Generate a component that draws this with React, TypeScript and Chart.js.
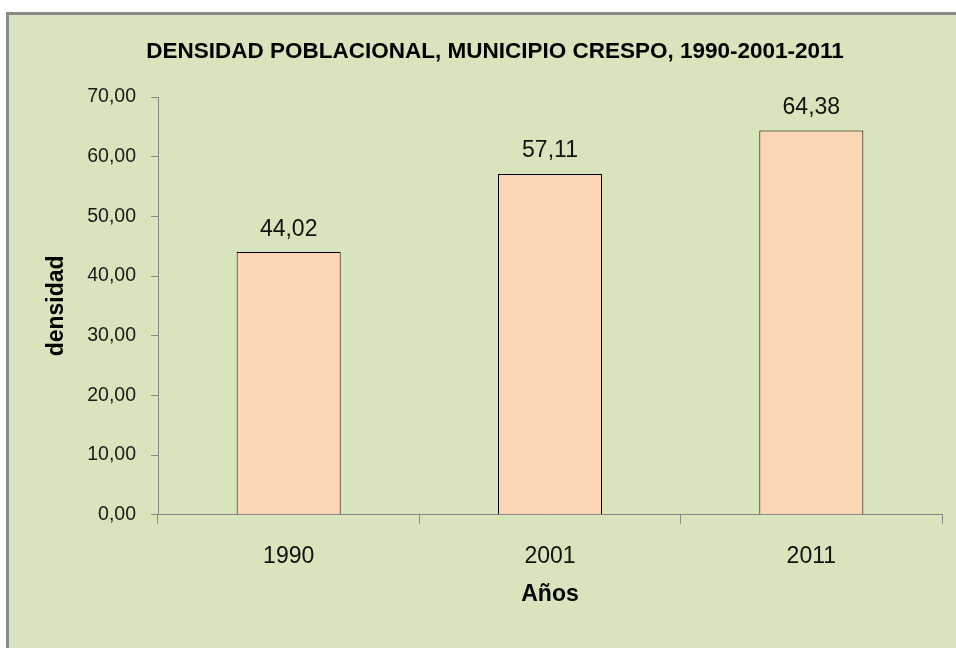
import React, { useEffect, useRef } from "react";
import { Chart, registerables } from "chart.js";

Chart.register(...registerables);

const categories: string[] = ["1990", "2001", "2011"];
const densidad: number[] = [44.02, 57.11, 64.38];
const yTickMin = 0;
const yTickMax = 70;
const yTickStep = 10;
const chartTitle = "DENSIDAD POBLACIONAL, MUNICIPIO CRESPO, 1990-2001-2011";
const xTitle = "Años";
const yTitle = "densidad";

const FONT = "'Liberation Sans Narrow', 'Arial Narrow', 'Liberation Sans', Arial, sans-serif";
const fmt = (v: number) => v.toFixed(2).replace(".", ",");

const valueLabels = {
  id: "valueLabels",
  afterDatasetsDraw(chart: any) {
    const ctx = chart.ctx;
    const meta = chart.getDatasetMeta(0);
    const ds = chart.data.datasets[0];
    ctx.save();
    ctx.font = `23px ${FONT}`;
    ctx.fillStyle = "#111";
    ctx.textAlign = "center";
    ctx.textBaseline = "alphabetic";
    meta.data.forEach((bar: any, i: number) => {
      ctx.fillText(fmt(ds.data[i] as number), bar.x, bar.y - 16.5);
    });
    ctx.restore();
  },
};

export default function App() {
  const ref = useRef<HTMLCanvasElement | null>(null);
  useEffect(() => {
    if (!ref.current) return;
    const axisGrey = "#868686";
    const chart = new Chart(ref.current, {
      type: "bar",
      data: {
        labels: categories,
        datasets: [
          {
            data: densidad,
            backgroundColor: "#FCD5B4",
            borderColor: "#000000",
            borderWidth: 1,
            barPercentage: 0.398,
            categoryPercentage: 1,
          },
        ],
      },
      options: {
        animation: false,
        responsive: false,
        maintainAspectRatio: false,
        layout: { padding: { left: 48, right: 14, top: 0, bottom: 0 } },
        plugins: {
          legend: { display: false },
          tooltip: { enabled: false },
          title: {
            display: true,
            text: chartTitle,
            color: "#000",
            font: { family: FONT, size: 22.5, weight: "bold", lineHeight: 1.2 },
            padding: { top: 38.4, bottom: 31.6 },
          },
        },
        scales: {
          x: {
            z: 1,
            grid: {
              offset: true,
              drawOnChartArea: false,
              drawTicks: true,
              tickLength: 9,
              color: axisGrey,
            },
            border: { display: true, color: axisGrey, width: 1 },
            ticks: {
              color: "#111",
              padding: 18.8,
              font: { family: FONT, size: 23, lineHeight: 1.2 },
            },
            title: {
              display: true,
              text: xTitle,
              color: "#000",
              font: { family: FONT, size: 23, weight: "bold", lineHeight: 1.2 },
              padding: { top: 0, bottom: 39.7 },
            },
            afterFit(scale: any) {
              scale.height = 133.3;
            },
          },
          y: {
            min: yTickMin,
            max: yTickMax,
            grid: {
              drawOnChartArea: false,
              drawTicks: true,
              tickLength: 7,
              color: axisGrey,
            },
            border: { display: true, color: axisGrey, width: 1 },
            ticks: {
              stepSize: yTickStep,
              color: "#1a1a1a",
              padding: 15,
              font: { family: FONT, size: 19.5, lineHeight: 1.2 },
              callback: (v: any) => fmt(Number(v)),
            },
            title: {
              display: true,
              text: yTitle,
              color: "#000",
              font: { family: FONT, size: 23, weight: "bold", lineHeight: 1.2 },
              padding: { top: -5.1, bottom: 0 },
            },
            afterFit(scale: any) {
              scale.width = 110;
            },
          },
        },
      },
      plugins: [valueLabels],
    });
    return () => chart.destroy();
  }, []);

  return (
    <div
      style={{
        position: "absolute",
        left: 0,
        top: 0,
        width: 956,
        height: 648,
        overflow: "hidden",
        background: "#ffffff",
      }}
    >
      <div
        style={{
          position: "absolute",
          left: 6,
          top: 12,
          width: 1000,
          height: 1000,
          borderLeft: "3px solid #8a8a8a",
          borderTop: "3px solid #8a8a8a",
          background: "#D8E4BC",
        }}
      />
      <canvas
        ref={ref}
        width={956}
        height={648}
        style={{ position: "absolute", left: 0, top: 0, width: 956, height: 648 }}
      />
    </div>
  );
}
